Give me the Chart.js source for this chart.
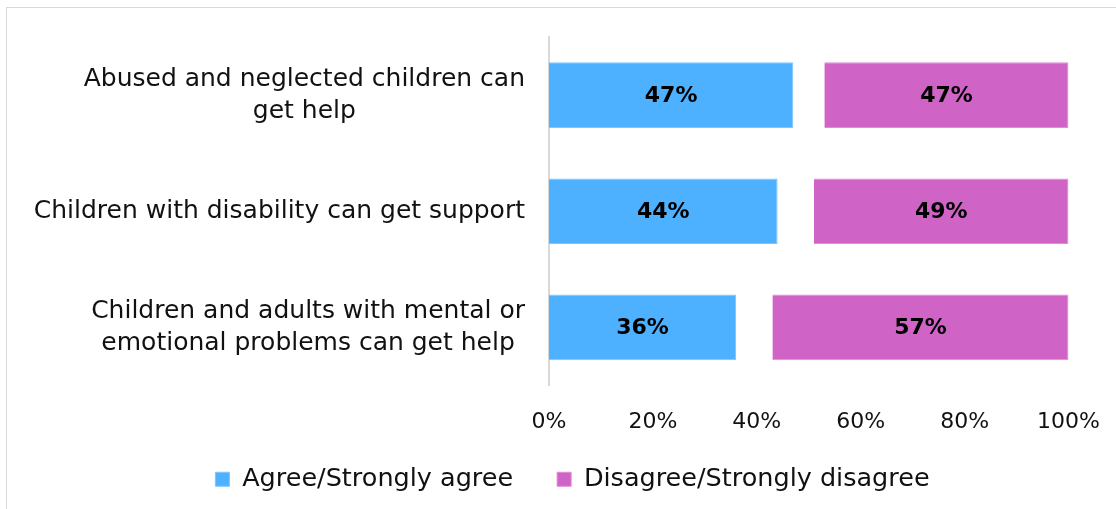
<!DOCTYPE html>
<html lang="en">
<head>
    <meta charset="UTF-8">
    <title>Can children get help</title>
    <script src="https://cdn.jsdelivr.net/npm/chart.js"></script>
    <style>
        body { margin: 0; background: #fff; }
        #frame { position: absolute; left: 6px; top: 7px; width: 1300px; height: 700px; border: 1px solid #d9d9d9; }
        #wrap { position: absolute; left: 0; top: 0; width: 1116px; height: 509px; }
    </style>
</head>
<body>
    <div id="frame"></div>
    <div id="wrap"><canvas id="helpChart"></canvas></div>

    <script>
        // categories, one array of lines per row
        const categories = [
            ['Abused and neglected children can', 'get help'],
            ['Children with disability can get support'],
            ['Children and adults with mental or', 'emotional problems can get help']
        ];
        const agreeValues = [47, 44, 36];
        // unlabelled gap between the two bars (don't know / no answer)
        const gapValues = [6, 7, 7];
        const disagreeValues = [47, 49, 57];
        const xTicks = [0, 20, 40, 60, 80, 100];

        const FONT = '"DejaVu Sans"';

        // category labels: block right aligned, lines centred within block
        const categoryLabels = {
            id: 'categoryLabels',
            afterDraw(chart) {
                const ctx = chart.ctx;
                const y = chart.scales.y;
                ctx.save();
                ctx.font = '25px ' + FONT;
                ctx.fillStyle = '#111';
                ctx.textAlign = 'center';
                ctx.textBaseline = 'middle';
                categories.forEach((lines, i) => {
                    const cy = y.getPixelForTick(i);
                    const maxW = Math.max(...lines.map(l => ctx.measureText(l).width));
                    const cx = chart.chartArea.left - 24 - maxW / 2;
                    lines.forEach((l, j) => {
                        ctx.fillText(l, cx, cy + (j - (lines.length - 1) / 2) * 32);
                    });
                });
                ctx.restore();
            }
        };

        // bold value labels in the middle of the coloured bars
        const valueLabels = {
            id: 'valueLabels',
            afterDatasetsDraw(chart) {
                const ctx = chart.ctx;
                ctx.save();
                ctx.font = 'bold 22px ' + FONT;
                ctx.fillStyle = '#000';
                ctx.textAlign = 'center';
                ctx.textBaseline = 'middle';
                [0, 2].forEach(di => {
                    const meta = chart.getDatasetMeta(di);
                    meta.data.forEach((bar, i) => {
                        const v = chart.data.datasets[di].data[i];
                        const cx = (bar.x + bar.base) / 2;
                        ctx.fillText(v + '%', cx, bar.y + 1);
                    });
                });
                ctx.restore();
            }
        };

        // x axis box is kept short so the legend sits close; let its labels overflow downwards
        const unclipTicks = {
            id: 'unclipTicks',
            afterLayout(chart) {
                chart.scales.x.bottom = chart.height;
            }
        };

        const ctx = document.getElementById('helpChart').getContext('2d');
        new Chart(ctx, {
            type: 'bar',
            data: {
                labels: categories,
                datasets: [
                    {
                        label: 'Agree/Strongly agree',
                        data: agreeValues,
                        backgroundColor: '#4db1ff',
                        borderColor: '#7cc6ff',
                        borderWidth: 1,
                        categoryPercentage: 1,
                        barPercentage: 0.565
                    },
                    {
                        label: 'gap',
                        data: gapValues,
                        backgroundColor: 'rgba(0,0,0,0)',
                        categoryPercentage: 1,
                        barPercentage: 0.565
                    },
                    {
                        label: 'Disagree/Strongly disagree',
                        data: disagreeValues,
                        backgroundColor: '#d063c6',
                        borderColor: '#e08ad8',
                        borderWidth: 1,
                        categoryPercentage: 1,
                        barPercentage: 0.565
                    }
                ]
            },
            options: {
                indexAxis: 'y',
                responsive: true,
                maintainAspectRatio: false,
                animation: false,
                layout: { padding: { left: 70, right: 41, top: 37, bottom: 7 } },
                plugins: {
                    tooltip: { enabled: false },
                    legend: {
                        position: 'bottom',
                        labels: {
                            font: { family: FONT, size: 25.5 },
                            color: '#111',
                            boxWidth: 14,
                            boxHeight: 14,
                            padding: 44,
                            filter: item => item.datasetIndex !== 1
                        }
                    }
                },
                scales: {
                    x: {
                        stacked: true,
                        min: 0,
                        max: 100,
                        afterBuildTicks: axis => { axis.ticks = xTicks.map(v => ({ value: v })); },
                        afterFit: axis => { axis.height = 37; },
                        grid: { display: false },
                        border: { display: false },
                        ticks: {
                            font: { family: FONT, size: 22 },
                            color: '#111',
                            padding: 16,
                            callback: v => v + '%'
                        }
                    },
                    y: {
                        stacked: true,
                        grid: { display: false },
                        border: { display: true, color: '#d9d9d9', width: 2 },
                        ticks: { display: false },
                        afterFit: axis => { axis.width = 479; }
                    }
                }
            },
            plugins: [categoryLabels, valueLabels, unclipTicks]
        });
    </script>
</body>
</html>
